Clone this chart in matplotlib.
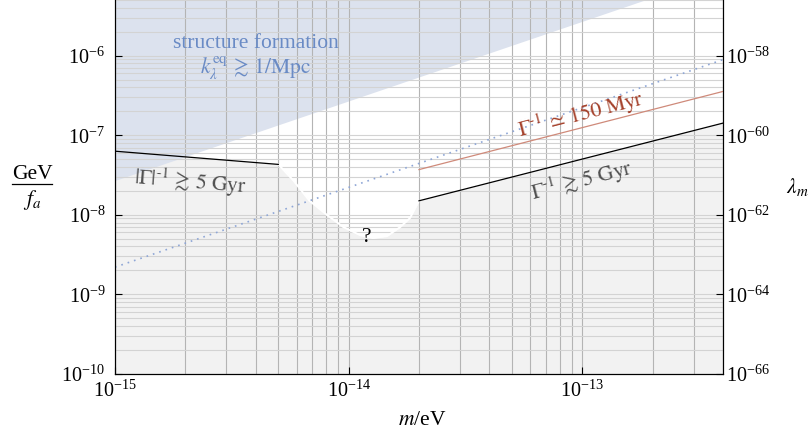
import numpy as np
import matplotlib
matplotlib.use('Agg')
import matplotlib.pyplot as plt
from matplotlib.lines import Line2D
from matplotlib.ticker import NullFormatter, NullLocator

plt.rcParams['font.family'] = 'serif'
plt.rcParams['font.serif'] = ['Liberation Serif', 'DejaVu Serif']
plt.rcParams['mathtext.fontset'] = 'stix'

# axis ranges
m_lim = [1e-15, 4e-13]
g_lim = [1e-10, 5e-6]
lam_scale = 1e-46   # lambda_m = (GeV/f_a)^2 * 1e-46

m_ticks = [1e-15, 1e-14, 1e-13]
g_ticks = [1e-10, 1e-9, 1e-8, 1e-7, 1e-6]
lam_ticks = [1e-66, 1e-64, 1e-62, 1e-60, 1e-58]

# |Gamma|^-1 > 5 Gyr, left branch
m_left = [1e-15, 5e-15]
g_left = [6.3e-8, 4.3e-8]

# unknown region ("?") boundary
m_hole = [5.0e-15, 5.8e-15, 6.8e-15, 8.1e-15, 9.5e-15, 1.12e-14, 1.27e-14,
          1.46e-14, 1.66e-14, 1.83e-14, 2.0e-14]
g_hole = [4.3e-8, 2.7e-8, 1.5e-8, 9.9e-9, 7.0e-9, 5.55e-9, 5.1e-9,
          5.4e-9, 7.0e-9, 9.1e-9, 1.5e-8]

# Gamma^-1 > 5 Gyr, right branch
m_right = [2e-14, 4e-13]
g_right = [1.5e-8, 1.42e-7]

# Gamma^-1 ~ 150 Myr
m_red = [2e-14, 4e-13]
g_red = [3.7e-8, 3.55e-7]

# dotted line
m_dot = [1e-15, 4e-13]
g_dot = [2.2e-9, 8.9e-7]

# structure formation bound
m_struct = [1e-15, 4e-13]
g_struct = [2.7e-8, 1.08e-5]

fig = plt.figure(figsize=(8.1, 4.41), dpi=100)
ax = fig.add_axes([115/810, 1 - 374/441, (723-115)/810, 374/441])

ax.set_xscale('log')
ax.set_yscale('log')
ax.set_xlim(m_lim)
ax.set_ylim(g_lim)
ax.set_xticks(m_ticks)
ax.set_yticks(g_ticks)

# shaded regions
m_gray = np.concatenate([m_left, m_hole[1:], m_right[1:]])
g_gray = np.concatenate([g_left, g_hole[1:], g_right[1:]])
ax.fill_between(m_gray, g_gray, g_lim[0], color='#f2f2f2', lw=0, zorder=0.2)
ax.fill_between(m_struct, g_struct, 1e-3, color='#dce2ee', lw=0, zorder=0.3)

# grid
ax.set_axisbelow(True)
ax.grid(which='both', axis='x', color='#b4b4b4', lw=0.8)
ax.grid(which='both', axis='y', color='#d3d3d3', lw=0.8)

# lines
ax.plot(m_hole, g_hole, color='white', lw=1.4, zorder=1)
ax.plot(m_left, g_left, color='black', lw=0.9, zorder=3)
ax.plot(m_right, g_right, color='black', lw=0.9, zorder=3)
ax.plot(m_red, g_red, color='#cf8a7a', lw=0.9, zorder=3)
ax.plot(m_dot, g_dot, color='#8ea6d6', lw=1.2, ls=(0, (1, 3)), zorder=3)

# labels in the plot
ax.text(4.0e-15, 1.42e-6, 'structure formation', color='#6a8bc5', fontsize=15.5,
        ha='center', va='center')
ax.text(4.0e-15, 6.9e-7, r'$k_\lambda^{\rm eq}\,\gtrsim\,1/{\rm Mpc}$', color='#6a8bc5',
        fontsize=15.5, ha='center', va='center')
ax.text(2.1e-15, 2.56e-8, r'$|\Gamma|^{\text{-}1}\,\gtrsim\,5\ {\rm Gyr}$', color='#505050',
        fontsize=15.5, ha='center', va='center', rotation=-4.7, rotation_mode='anchor')
ax.text(9.9e-14, 1.83e-7, r'$\Gamma^{\text{-}1}\,\simeq\,150\ {\rm Myr}$', color='#a5412b',
        fontsize=15.5, ha='center', va='center', rotation=14.5, rotation_mode='anchor')
ax.text(1.0e-13, 2.72e-8, r'$\Gamma^{\text{-}1}\,\gtrsim\,5\ {\rm Gyr}$', color='#505050',
        fontsize=15.5, ha='center', va='center', rotation=14.5, rotation_mode='anchor')
ax.text(1.2e-14, 5.24e-9, '?', color='black', fontsize=15.5, ha='center', va='center')

# ticks
ax.tick_params(which='major', direction='in', length=5, width=0.8, labelsize=14.5,
               top=False, right=False)
ax.tick_params(axis='y', which='major', pad=7)
ax.tick_params(axis='x', which='major', pad=5)
ax.tick_params(which='minor', length=0)
ax.xaxis.set_minor_formatter(NullFormatter())
ax.yaxis.set_minor_formatter(NullFormatter())
ax.spines['top'].set_visible(False)

# right axis: lambda_m
ax2 = ax.twinx()
ax2.set_yscale('log')
ax2.set_ylim(g_lim[0]**2 * lam_scale, g_lim[1]**2 * lam_scale)
ax2.set_yticks(lam_ticks)
ax2.yaxis.set_minor_locator(NullLocator())
ax2.tick_params(which='major', direction='in', length=5, width=0.8, labelsize=14.5, pad=2)
ax2.spines['top'].set_visible(False)

# axis labels
fig.text(32/810, 1 - 179/441, 'GeV', fontsize=15.5, ha='center', va='baseline')
fig.add_artist(Line2D([12/810, 52/810], [1 - 184/441, 1 - 184/441],
                      color='black', lw=0.9, transform=fig.transFigure))
fig.text(32/810, 1 - 205/441, r'$f_a$', fontsize=15.5, ha='center', va='baseline')
fig.text(786/810, 1 - 187/441, r'$\lambda_m$', fontsize=15.5, ha='left', va='center')
fig.text(422/810, 1 - 425/441, r'$m$/eV', fontsize=15.5, ha='center', va='baseline')

fig.savefig('out.png', dpi=100)
